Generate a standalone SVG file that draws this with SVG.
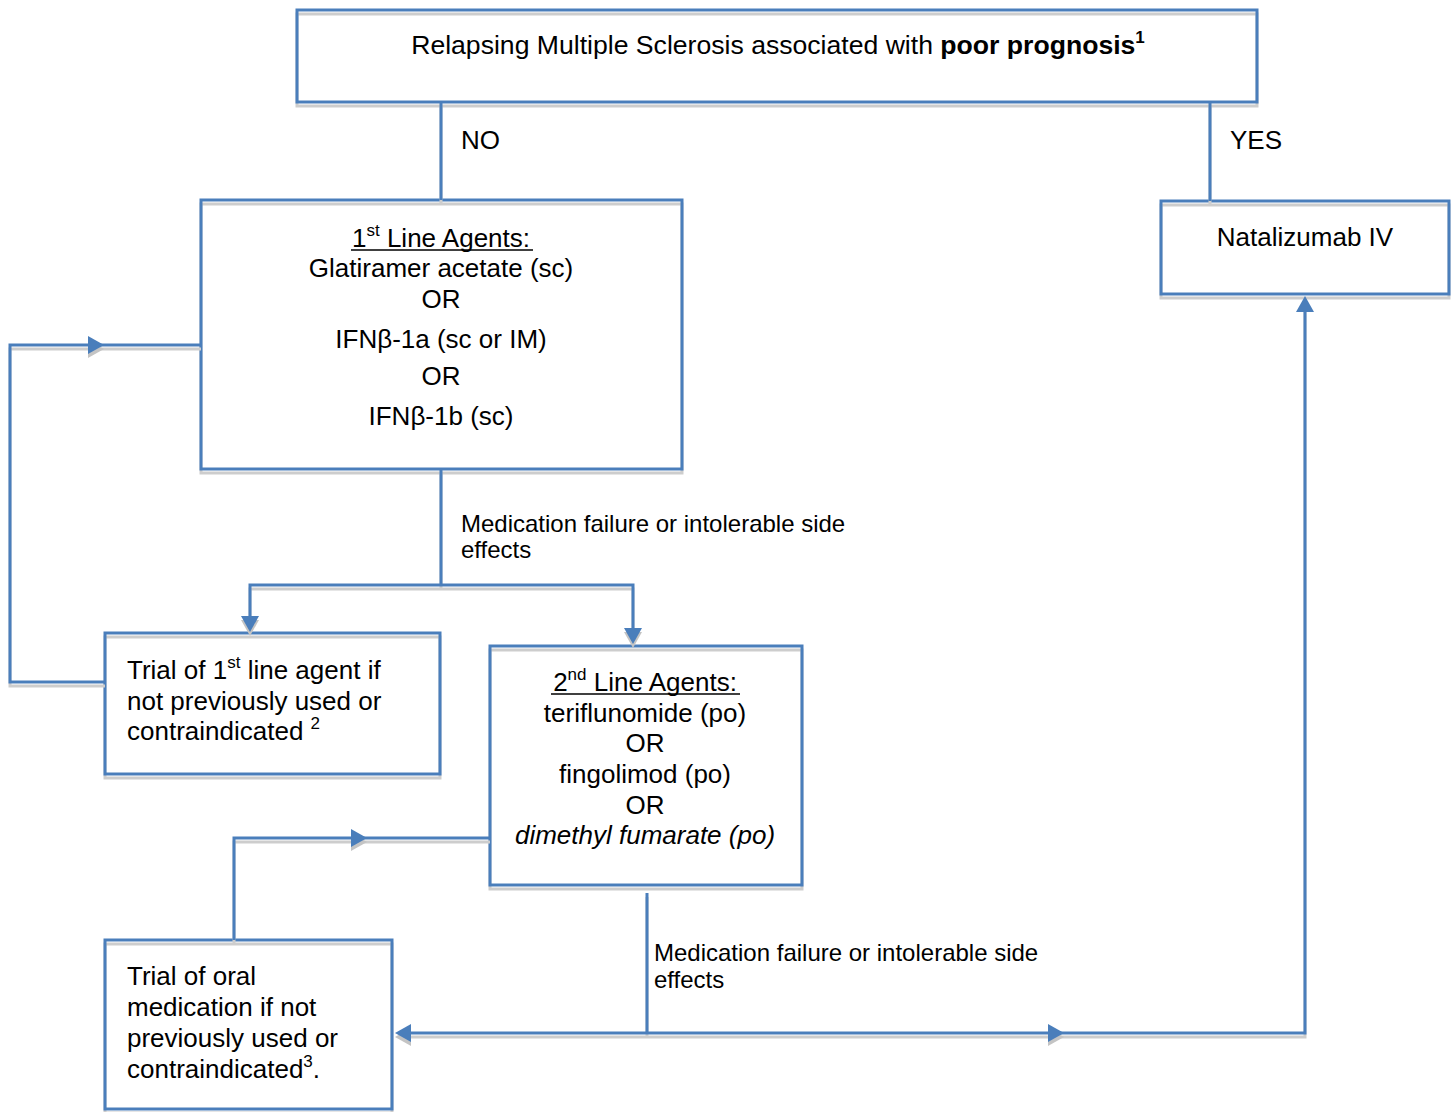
<svg xmlns="http://www.w3.org/2000/svg" xmlns:xlink="http://www.w3.org/1999/xlink" width="1452" height="1112" viewBox="0 0 1452 1112">
<style>
.box{fill:#ffffff;stroke:none}
.edge{fill:none;stroke:#4A7EBB;stroke-width:3}
.shadow{fill:none;stroke:#CDCDCD;stroke-width:3}
.line{fill:none;stroke:#4A7EBB;stroke-width:3}
.ul{stroke:#000000;stroke-width:1.6}
.ah{fill:#4A7EBB}
.ahs{fill:#C4C4C4}
text{font-family:"Liberation Sans",Arial,sans-serif;fill:#000000}
.t{font-size:26px}
.c{text-anchor:middle}
.lbl{font-size:24px}
.sup{font-size:17px}
</style>
<defs>
<path id="ah" d="M0,0 L-16,-9 L-16,9 Z"/>
</defs>
<rect width="1452" height="1112" fill="#ffffff"/>

<g id="node-top">
<rect class="box" x="297" y="10" width="960" height="92"/>
<rect class="shadow" x="297" y="14" width="960" height="92"/>
<rect class="edge" x="297" y="10" width="960" height="92"/>
<text class="c" x="778" y="54" style="font-size:26.6px">Relapsing Multiple Sclerosis associated with <tspan font-weight="bold">poor prognosis</tspan><tspan class="sup" font-weight="bold" dy="-11">1</tspan></text>
</g>

<g id="node-first-line">
<rect class="box" x="201" y="200" width="481" height="269"/>
<rect class="shadow" x="201" y="204" width="481" height="269"/>
<rect class="edge" x="201" y="200" width="481" height="269"/>
<text class="t c" x="441" y="247">1<tspan class="sup" dy="-11">st</tspan><tspan dy="11"> Line Agents:</tspan></text>
<line class="ul" x1="351" y1="250" x2="533" y2="250"/>
<text class="t c" x="441" y="277">Glatiramer acetate (sc)</text>
<text class="t c" x="441" y="308">OR</text>
<text class="t c" x="441" y="348">IFNβ-1a (sc or IM)</text>
<text class="t c" x="441" y="385">OR</text>
<text class="t c" x="441" y="425">IFNβ-1b (sc)</text>
</g>

<g id="node-natalizumab">
<rect class="box" x="1161" y="201" width="288" height="93"/>
<rect class="shadow" x="1161" y="205" width="288" height="93"/>
<rect class="edge" x="1161" y="201" width="288" height="93"/>
<text class="t c" x="1305" y="246">Natalizumab IV</text>
</g>

<g id="node-trial-first">
<rect class="box" x="105" y="633" width="335" height="141"/>
<rect class="shadow" x="105" y="637" width="335" height="141"/>
<rect class="edge" x="105" y="633" width="335" height="141"/>
<text class="t" x="127" y="679">Trial of 1<tspan class="sup" dy="-11">st</tspan><tspan dy="11"> line agent if</tspan></text>
<text class="t" x="127" y="710">not previously used or</text>
<text class="t" x="127" y="740">contraindicated <tspan class="sup" dy="-11">2</tspan></text>
</g>

<g id="node-second-line">
<rect class="box" x="490" y="646" width="312" height="239"/>
<rect class="shadow" x="490" y="650" width="312" height="239"/>
<rect class="edge" x="490" y="646" width="312" height="239"/>
<text class="t c" x="645" y="691">2<tspan class="sup" dy="-11">nd</tspan><tspan dy="11"> Line Agents:</tspan></text>
<line class="ul" x1="551" y1="694" x2="740" y2="694"/>
<text class="t c" x="645" y="722">teriflunomide (po)</text>
<text class="t c" x="645" y="752">OR</text>
<text class="t c" x="645" y="783">fingolimod (po)</text>
<text class="t c" x="645" y="814">OR</text>
<text class="t c" x="645" y="844" font-style="italic">dimethyl fumarate (po)</text>
</g>

<g id="node-trial-oral">
<rect class="box" x="105" y="940" width="287" height="169"/>
<rect class="shadow" x="105" y="944" width="287" height="169"/>
<rect class="edge" x="105" y="940" width="287" height="169"/>
<text class="t" x="127" y="985">Trial of oral</text>
<text class="t" x="127" y="1016">medication if not</text>
<text class="t" x="127" y="1047">previously used or</text>
<text class="t" x="127" y="1078">contraindicated<tspan class="sup" dy="-11">3</tspan><tspan dy="11">.</tspan></text>
</g>

<g id="connectors">
<g transform="translate(0,4)">
<path class="shadow" d="M441,102 V200"/>
<path class="shadow" d="M1210,102 V201"/>
<path class="shadow" d="M441,469 V585"/>
<path class="shadow" d="M250,628 V585 H633 V640"/>
<path class="shadow" d="M105,682 H10 V345 H201"/>
<path class="shadow" d="M490,838 H234 V940"/>
<path class="shadow" d="M647,893 V1033"/>
<path class="shadow" d="M400,1033 H1305 V300"/>
<use class="ahs" xlink:href="#ah" transform="translate(104,345)"/>
<use class="ahs" xlink:href="#ah" transform="translate(250,632) rotate(90)"/>
<use class="ahs" xlink:href="#ah" transform="translate(633,644) rotate(90)"/>
<use class="ahs" xlink:href="#ah" transform="translate(367,838)"/>
<use class="ahs" xlink:href="#ah" transform="translate(395,1033) rotate(180)"/>
<use class="ahs" xlink:href="#ah" transform="translate(1064,1033)"/>
</g>
<path class="line" d="M441,102 V200"/>
<path class="line" d="M1210,102 V201"/>
<path class="line" d="M441,469 V585"/>
<path class="line" d="M250,628 V585 H633 V640"/>
<path class="line" d="M105,682 H10 V345 H201"/>
<path class="line" d="M490,838 H234 V940"/>
<path class="line" d="M647,893 V1033"/>
<path class="line" d="M400,1033 H1305 V300"/>
<use class="ah" xlink:href="#ah" transform="translate(104,345)"/>
<use class="ah" xlink:href="#ah" transform="translate(250,632) rotate(90)"/>
<use class="ah" xlink:href="#ah" transform="translate(633,644) rotate(90)"/>
<use class="ah" xlink:href="#ah" transform="translate(367,838)"/>
<use class="ah" xlink:href="#ah" transform="translate(395,1033) rotate(180)"/>
<use class="ah" xlink:href="#ah" transform="translate(1064,1033)"/>
<use class="ah" xlink:href="#ah" transform="translate(1305,296) rotate(-90)"/>
<text class="t" x="461" y="149">NO</text>
<text class="t" x="1230" y="149">YES</text>
<text class="lbl" x="461" y="532">Medication failure or intolerable side</text>
<text class="lbl" x="461" y="558">effects</text>
<text class="lbl" x="654" y="961">Medication failure or intolerable side</text>
<text class="lbl" x="654" y="988">effects</text>
</g>
</svg>
